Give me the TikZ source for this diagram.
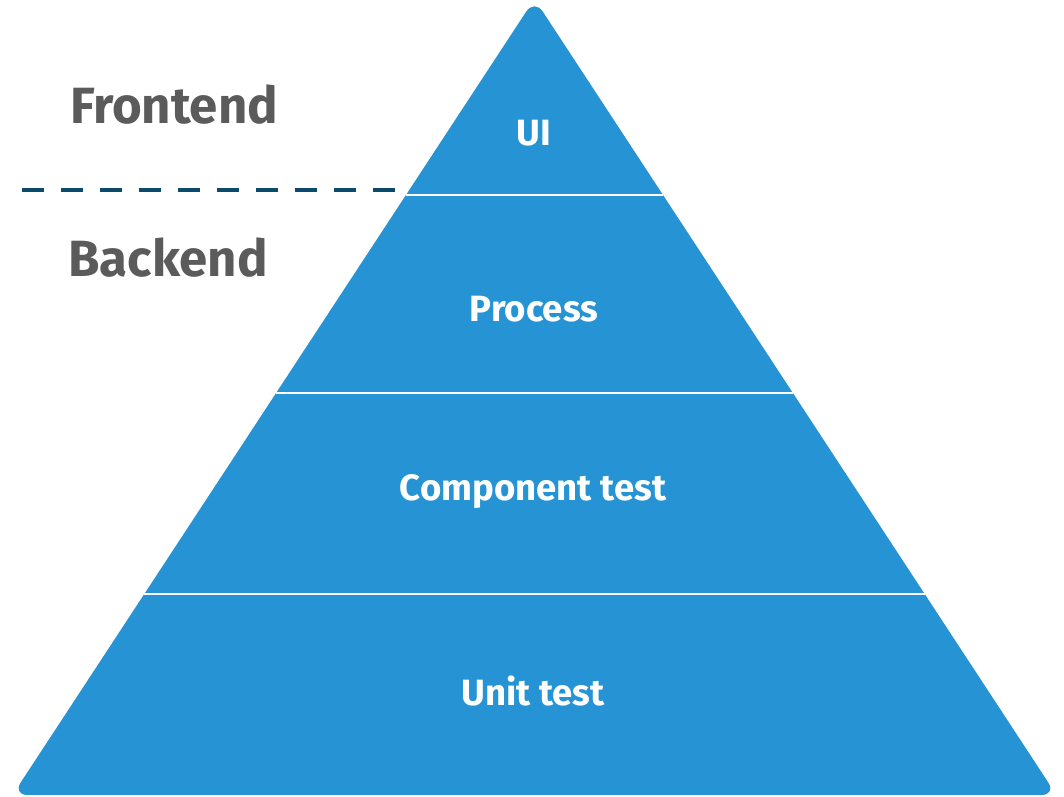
\documentclass[tikz,border=0pt]{standalone}
\usepackage{fontspec}
\setmainfont{Fira Sans}
\usetikzlibrary{calc}
\definecolor{pyrblue}{HTML}{2694D4}
\definecolor{sidegray}{HTML}{5B5B5B}
\definecolor{darkteal}{HTML}{0B4A6C}
\newcommand{\layerlabel}[3]{\node[layer] at (#1) (#2) {#3}}

\begin{document}
\begin{tikzpicture}[
	layer/.style={text=white,font=\bfseries\fontsize{10.4}{12}\selectfont,inner sep=0pt},
	sidelabel/.style={text=sidegray,font=\bfseries\fontsize{14.5}{17}\selectfont,inner sep=0pt},
	split/.style={white,line width=0.8pt},
	border/.style={darkteal,line width=1.4pt,dash pattern=on 6.2pt off 4.9pt}]
	\useasboundingbox (0,0) rectangle (10.64,7.97);
	
	\coordinate (apex) at (5.345,7.98);
	\coordinate (bl) at (0.125,0.02);
	\coordinate (br) at (10.565,0.02);
	\fill[pyrblue,rounded corners=0.15cm] ($(bl)!0.5!(br)$) -- (br) -- (apex) -- (bl) -- cycle;
	
	\draw[split] ($(apex)!0.2462!(bl)$) -- ($(apex)!0.2462!(br)$);
	\draw[split] ($(apex)!0.4950!(bl)$) -- ($(apex)!0.4950!(br)$);
	\draw[split] ($(apex)!0.7475!(bl)$) -- ($(apex)!0.7475!(br)$);
	
	\layerlabel{5.34,6.64}{ui}{UI};
	\layerlabel{5.34,4.88}{process}{Process};
	\layerlabel{5.33,3.05}{component}{Component test};
	\layerlabel{5.33,1.06}{unit}{Unit test};
	
	\node[sidelabel] at (1.74,6.92) (frontend) {Frontend};
	\node[sidelabel] at (1.68,5.39) (backend) {Backend};
	
	\coordinate (dashL) at (0.22,6.07);
	\coordinate (dashR) at (3.95,6.07);
	\draw[border] (dashL) -- (dashR);
\end{tikzpicture}
\end{document}
